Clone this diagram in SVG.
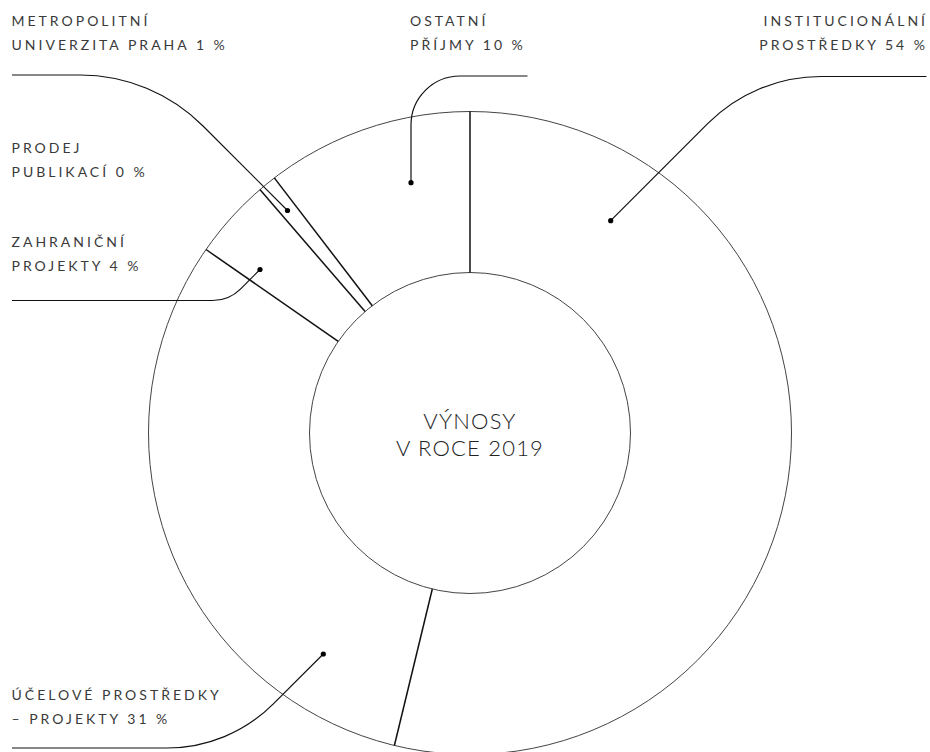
<svg xmlns="http://www.w3.org/2000/svg" width="930" height="752" viewBox="0 0 930 752">
<style>
.ring{fill:none;stroke:#444;stroke-width:1}
.div{stroke:#111;stroke-width:1.5;fill:none}
.lead{stroke:#111;stroke-width:1.2;fill:none}
.dot{fill:#000}
.lbl{font-family:Lato,"Liberation Sans",sans-serif;font-size:14px;letter-spacing:3px;fill:#3a3a3a}
.ctr{font-family:Lato,"Liberation Sans",sans-serif;font-size:22px;font-weight:300;letter-spacing:1.2px;fill:#222;text-anchor:middle}
</style>
<rect width="930" height="752" fill="#fff"/>
<g id="donut">
<circle class="ring" cx="470" cy="433" r="321.5"/>
<circle class="ring" cx="470" cy="433" r="160.5"/>
</g>
<g id="dividers">
<line class="div" x1="470" y1="272.5" x2="470" y2="111.5"/>
<line class="div" x1="432.3" y1="589" x2="394.4" y2="745.5"/>
<line class="div" x1="338.2" y1="341.4" x2="206" y2="249.5"/>
<line class="div" x1="365.1" y1="311.5" x2="259.9" y2="189.6"/>
<line class="div" x1="372.3" y1="305.7" x2="274.3" y2="177.9"/>
</g>
<g id="center">
<text class="ctr" x="470" y="428.5">VÝNOSY</text>
<text class="ctr" x="470" y="456">V ROCE 2019</text>
</g>
<g id="connectors">
<path class="lead" d="M12,75 H80 A174,174 0 0 1 203,126 L287.5,210.5"/>
<path class="lead" d="M527.5,76 H460 A49,49 0 0 0 411,125 V182.7"/>
<path class="lead" d="M926.5,76.5 H821 A160,160 0 0 0 707.9,123.4 L610.7,220.7"/>
<path class="lead" d="M12,300.5 H212.4 A40,40 0 0 0 240.7,288.8 L260,269.5"/>
<path class="lead" d="M12,748 H167 A150,150 0 0 0 273.1,704.1 L323.3,654"/>
<circle class="dot" cx="287.5" cy="210.5" r="2.6"/>
<circle class="dot" cx="411" cy="182.7" r="2.6"/>
<circle class="dot" cx="610.7" cy="220.7" r="2.6"/>
<circle class="dot" cx="260" cy="269.5" r="2.6"/>
<circle class="dot" cx="323.3" cy="654" r="2.6"/>
</g>
<g id="label-metropolitni">
<text class="lbl" x="11.5" y="26">METROPOLITNÍ</text>
<text class="lbl" x="11.5" y="50">UNIVERZITA PRAHA 1 %</text>
</g>
<g id="label-ostatni">
<text class="lbl" x="410" y="26">OSTATNÍ</text>
<text class="lbl" x="410" y="50">PŘÍJMY 10 %</text>
</g>
<g id="label-institucionalni">
<text class="lbl" x="928" y="26" text-anchor="end">INSTITUCIONÁLNÍ</text>
<text class="lbl" x="928" y="50" text-anchor="end">PROSTŘEDKY 54 %</text>
</g>
<g id="label-prodej">
<text class="lbl" x="11.5" y="153">PRODEJ</text>
<text class="lbl" x="11.5" y="176.5">PUBLIKACÍ 0 %</text>
</g>
<g id="label-zahranicni">
<text class="lbl" x="11.5" y="247">ZAHRANIČNÍ</text>
<text class="lbl" x="11.5" y="270.5">PROJEKTY 4 %</text>
</g>
<g id="label-ucelove">
<text class="lbl" x="11.5" y="700">ÚČELOVÉ PROSTŘEDKY</text>
<text class="lbl" x="11.5" y="723.5">– PROJEKTY 31 %</text>
</g>
</svg>
